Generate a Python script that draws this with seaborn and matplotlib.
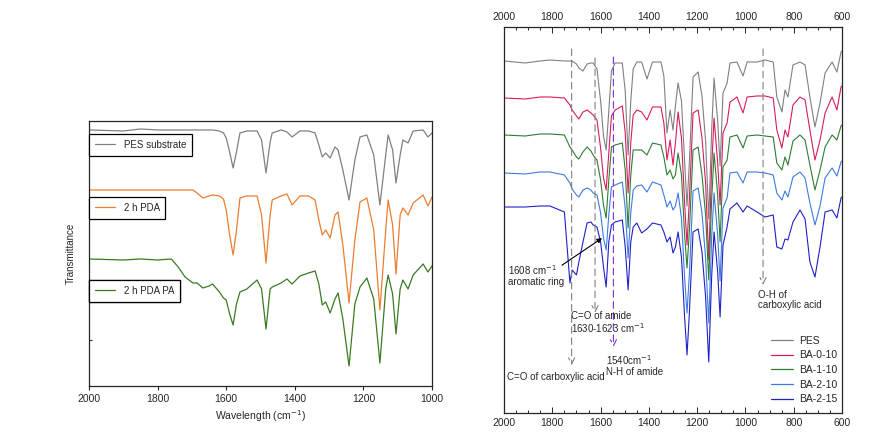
import matplotlib
matplotlib.use('Agg')
import matplotlib.pyplot as plt
from matplotlib.lines import Line2D
from matplotlib.ticker import MultipleLocator, NullFormatter
import pandas as pd
import seaborn as sns

# ---- left panel: PES substrate / PDA / PDA PA (depth below each baseline, a.u.)
left_wn = [2000, 1900, 1850, 1800, 1760, 1740, 1720, 1697, 1685, 1668, 1650, 1640, 1620,
           1608, 1600, 1590, 1580, 1570, 1560, 1540, 1510, 1497, 1484, 1472, 1466, 1440,
           1423, 1408, 1385, 1360, 1341, 1330, 1320, 1310, 1297, 1283, 1274, 1260, 1242,
           1225, 1210, 1190, 1170, 1152, 1135, 1128, 1115, 1105, 1093, 1085, 1070, 1055,
           1026, 1012, 1000]
pes_sub = [0, 1, -1, 0, 0, 0, 0, 0, 0, 0, 0, 0, 1,
           3, 8, 22, 38, 22, 3, 1, 1, 10, 43, 12, 3, 0,
           2, 7, 1, 1, 3, 15, 27, 23, 28, 17, 20, 40, 70,
           30, 7, 5, 25, 75, 25, 5, 20, 53, 25, 10, 13, 1,
           0, 7, 3]
pda_2h = [0, 0, 0, 0, 0, 0, 0, 0, 3, 8, 6, 5, 6,
          9, 20, 45, 65, 40, 8, 6, 6, 25, 73, 25, 10, 6,
          4, 15, 6, 6, 10, 30, 45, 40, 48, 25, 22, 55, 113,
          50, 12, 8, 40, 120, 40, 10, 35, 84, 25, 18, 25, 13,
          5, 16, 7]
pda_pa_2h = [0, 1, 0, 1, 0, 8, 18, 24, 24, 29, 27, 25, 33,
             39, 41, 55, 66, 45, 33, 30, 21, 30, 70, 30, 28, 24,
             20, 25, 17, 14, 12, 25, 46, 43, 54, 40, 34, 60, 107,
             45, 28, 19, 40, 104, 30, 16, 35, 75, 30, 21, 30, 16,
             5, 13, 7]
left_names = ['PES substrate', '2 h PDA', '2 h PDA PA']
left_colors = ['#808080', '#ED7D31', '#3B7A22']
left_shift = [0, 60, 129]

# ---- right panel: PES and BA membranes
right_wn = [2000, 1913, 1850, 1810, 1750, 1727, 1718, 1700, 1690, 1673, 1656, 1640, 1631,
            1615, 1600, 1588, 1577, 1566, 1555, 1540, 1510, 1498, 1486, 1475, 1465, 1450,
            1430, 1408, 1385, 1350, 1338, 1325, 1312, 1300, 1290, 1279, 1265, 1252, 1242,
            1232, 1217, 1196, 1180, 1165, 1152, 1140, 1130, 1115, 1105, 1093, 1076, 1064,
            1035, 1010, 993, 952, 919, 885, 870, 849, 836, 824, 803, 774, 753, 733,
            712, 691, 670, 641, 621, 604, 600]
pes = [0, 2, 0, -1, 0, 0, 0, 3, 7, 10, 3, 2, 2,
       8, 40, 75, 89, 50, 10, 2, 2, 30, 94, 40, 8, 1,
       1, 18, 1, 1, 15, 72, 49, 69, 45, 22, 40, 100, 145,
       100, 16, 11, 35, 80, 158, 70, 17, 60, 105, 32, 22, 2,
       1, 15, 1, 1, -1, 1, 36, 51, 29, 36, 4, 1, 4, 36,
       66, 42, 12, 1, 11, -9, -10]
ba_0_10 = [0, 1, -1, -1, 0, 7, 12, 18, 21, 14, 12, 15, 17,
           22, 50, 80, 92, 55, 18, 12, 8, 35, 95, 45, 17, 12,
           14, 22, 9, 9, 25, 62, 42, 67, 45, 14, 40, 105, 147,
           100, 15, 12, 40, 85, 162, 70, 20, 65, 107, 35, 25, 4,
           -1, 15, -1, -2, -2, 0, 32, 50, 32, 39, 7, -1, 2, 32,
           62, 42, 15, -1, 12, -11, -12]
ba_1_10 = [0, 1, -1, -1, 0, 12, 15, 22, 24, 17, 12, 16, 20,
           25, 45, 70, 83, 45, 12, 10, 8, 35, 93, 40, 15, 15,
           15, 20, 8, 10, 22, 40, 35, 44, 40, 18, 40, 100, 133,
           95, 15, 12, 40, 80, 145, 65, 18, 60, 107, 32, 25, 2,
           0, 13, 1, 0, 1, 2, 28, 35, 22, 30, 6, 0, 5, 30,
           55, 35, 12, 0, 5, -9, -10]
ba_2_10 = [0, 1, -1, -1, 2, 10, 16, 22, 24, 17, 15, 17, 20,
           22, 40, 65, 77, 42, 14, 12, 9, 35, 85, 40, 17, 13,
           12, 19, 9, 12, 22, 34, 28, 37, 33, 20, 45, 105, 140,
           100, 18, 15, 40, 85, 150, 65, 20, 62, 108, 35, 25, 0,
           -1, 10, -1, -1, 0, 2, 20, 27, 18, 24, 4, -1, 5, 30,
           52, 33, 5, -5, 3, -11, -12]
ba_2_15 = [0, 0, -1, -1, 5, 76, 63, 68, 55, 35, 16, 15, 18,
           20, 35, 60, 80, 35, 18, 15, 13, 40, 83, 35, 20, 16,
           26, 22, 16, 18, 25, 35, 30, 46, 40, 25, 50, 110, 148,
           105, 25, 22, 45, 90, 155, 70, 25, 65, 110, 38, 20, 2,
           -4, 5, -1, 5, 10, 8, 40, 42, 32, 33, 15, 3, 12, 55,
           70, 40, 5, 3, 11, -9, -10]
right_names = ['PES', 'BA-0-10', 'BA-1-10', 'BA-2-10', 'BA-2-15']
right_colors = ['#808080', '#D81B60', '#2E7D32', '#3C7BE0', '#2020C8']
right_shift = [0, 37, 74, 112, 146]


def stack(wn, curves, names, shifts):
    rows = []
    for name, depth, s in zip(names, curves, shifts):
        for w, d in zip(wn, depth):
            rows.append({'wn': w, 'T': 100 - d - s, 'sample': name})
    return pd.DataFrame(rows)


sns.set_style('ticks')
plt.rcParams['font.family'] = ['Liberation Sans', 'DejaVu Sans']
plt.rcParams['font.size'] = 7
plt.rcParams['axes.linewidth'] = 0.9

fig = plt.figure(figsize=(8.91, 4.41), dpi=100)
ax1 = fig.add_axes([0.0999, 0.1247, 0.385, 0.601])
ax2 = fig.add_axes([0.5657, 0.0635, 0.3793, 0.8753])

# left panel
df_l = stack(left_wn, [pes_sub, pda_2h, pda_pa_2h], left_names, left_shift)
sns.lineplot(data=df_l, x='wn', y='T', hue='sample', palette=left_colors,
             hue_order=left_names, ax=ax1, lw=0.9, legend=False)
ax1.set_xlim(2000, 1000)
ax1.set_ylim(-156, 109)
ax1.xaxis.set_major_locator(MultipleLocator(200))
ax1.tick_params(axis='x', direction='out', length=3, width=0.8, labelsize=7.5, pad=3)
ax1.set_yticks([-110, -72, 11])
ax1.yaxis.set_major_formatter(NullFormatter())
ax1.tick_params(axis='y', direction='in', length=2, width=0.8)
ax1.set_xlabel('Wavelength (cm$^{-1}$)', fontsize=7.5, labelpad=3)
ax1.set_ylabel('Transmittance', fontsize=7, labelpad=6)

tops = [0.951, 0.713, 0.40]
for name, col, top in zip(left_names, left_colors, tops):
    h = [Line2D([], [], color=col, lw=0.9)]
    leg = ax1.legend(h, [name], loc='upper left', bbox_to_anchor=(0, top),
                     borderaxespad=0, fancybox=False, edgecolor='black',
                     framealpha=1, fontsize=7, handlelength=2.1,
                     borderpad=0.6, handletextpad=0.85)
    leg.get_frame().set_linewidth(0.9)
    ax1.add_artist(leg)

# right panel
df_r = stack(right_wn, [pes, ba_0_10, ba_1_10, ba_2_10, ba_2_15], right_names, right_shift)
sns.lineplot(data=df_r, x='wn', y='T', hue='sample', palette=right_colors,
             hue_order=right_names, ax=ax2, lw=0.8, legend=False)
ax2.set_xlim(2000, 600)
ax2.set_ylim(-252, 134)
ax2.set_xlabel('')
ax2.set_ylabel('')
ax2.set_yticks([])
ax2.xaxis.set_major_locator(MultipleLocator(200))
ax2.xaxis.set_minor_locator(MultipleLocator(50))
ax2.tick_params(axis='x', which='both', direction='in', top=True, labeltop=True,
                bottom=True, labelbottom=True, labelsize=7.5, width=0.7)
ax2.tick_params(axis='x', which='major', length=4)
ax2.tick_params(axis='x', which='minor', length=2)

tr = ax2.get_xaxis_transform()
dash = dict(arrowstyle='->', color='#808080', lw=0.8, ls=(0, (6, 4)),
            shrinkA=0, shrinkB=0, mutation_scale=11)
ax2.annotate('', xy=(1720, 0.124), xytext=(1720, 0.943), xycoords=tr,
             textcoords=tr, arrowprops=dash)
ax2.annotate('', xy=(1623, 0.259), xytext=(1623, 0.920), xycoords=tr,
             textcoords=tr, arrowprops=dash)
ax2.annotate('', xy=(927, 0.332), xytext=(927, 0.943), xycoords=tr,
             textcoords=tr, arrowprops=dash)
ax2.annotate('', xy=(1547, 0.171), xytext=(1547, 0.922), xycoords=tr,
             textcoords=tr, arrowprops=dict(dash, color='#7B2CD6'))
ax2.annotate('', xy=(1594, 0.453), xytext=(1760, 0.383), xycoords=tr,
             textcoords=tr, arrowprops=dict(arrowstyle='-|>', color='black',
                                            lw=0.8, shrinkA=0, shrinkB=0,
                                            mutation_scale=7))

ax2.text(1988, 0.093, 'C=O of carboxylic acid', transform=tr, ha='left', va='center')
ax2.text(1722, 0.233, 'C=O of amide\n1630-1623 cm$^{-1}$', transform=tr,
         ha='left', va='center', linespacing=0.95)
ax2.text(1578, 0.124, '1540cm$^{-1}$\nN-H of amide', transform=tr,
         ha='left', va='center', linespacing=0.95)
ax2.text(950, 0.293, 'O-H of\ncarboxylic acid', transform=tr,
         ha='left', va='center', linespacing=0.95)
ax2.text(1983, 0.357, '1608 cm$^{-1}$\naromatic ring', transform=tr,
         ha='left', va='center', linespacing=0.95)

handles = [Line2D([], [], color=c, lw=0.9) for c in right_colors]
ax2.legend(handles, right_names, loc='lower right', bbox_to_anchor=(1.0, 0.01),
           frameon=False, fontsize=7.5, handlelength=2.1, handletextpad=0.6,
           labelspacing=0.45, borderaxespad=0.05)

fig.savefig('out.png', dpi=100)
